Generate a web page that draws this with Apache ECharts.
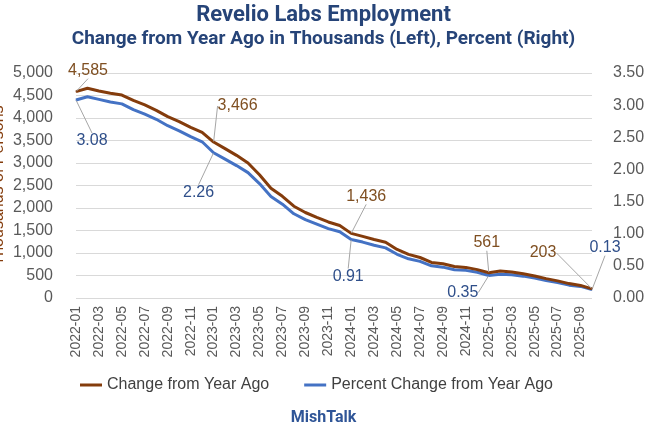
<!DOCTYPE html>
<html>
<head>
<meta charset="utf-8">
<script src="https://cdn.jsdelivr.net/npm/echarts@6/dist/echarts.min.js"></script>
<style>
html,body{margin:0;padding:0;background:#fff;}
#c{width:647px;height:432px;}
</style>
</head>
<body>
<div id="c"></div>
<script>
const categories = ['2022-01','2022-02','2022-03','2022-04','2022-05','2022-06','2022-07','2022-08','2022-09','2022-10','2022-11','2022-12',
'2023-01','2023-02','2023-03','2023-04','2023-05','2023-06','2023-07','2023-08','2023-09','2023-10','2023-11','2023-12',
'2024-01','2024-02','2024-03','2024-04','2024-05','2024-06','2024-07','2024-08','2024-09','2024-10','2024-11','2024-12',
'2025-01','2025-02','2025-03','2025-04','2025-05','2025-06','2025-07','2025-08','2025-09','2025-10'];
const changeThousands = [4585,4660,4600,4550,4510,4390,4290,4170,4030,3920,3790,3680,
3466,3320,3170,3000,2740,2440,2260,2040,1900,1790,1690,1610,
1436,1370,1300,1240,1080,970,900,790,760,700,680,630,
561,600,580,540,490,430,380,320,280,203];
const changePercent = [3.08,3.13,3.09,3.05,3.02,2.93,2.86,2.78,2.68,2.60,2.51,2.43,
2.26,2.16,2.06,1.95,1.78,1.58,1.46,1.31,1.22,1.15,1.08,1.03,
0.91,0.87,0.82,0.78,0.68,0.61,0.57,0.50,0.48,0.44,0.43,0.40,
0.35,0.37,0.36,0.34,0.31,0.27,0.24,0.20,0.18,0.13];
const leftTicks = {min:0, max:5000, interval:500};
const rightTicks = {min:0, max:3.5, interval:0.5};
// labelled points: index -> label offset
const brownLabels = {0:[12,-21], 12:[24,-36], 24:[15,-37], 36:[-2,-30], 45:[-49,-36]};
const blueLabels = {0:[16,41], 12:[-15,40], 24:[-3,37], 36:[-26,17], 45:[13,-42]};

const BROWN = '#843c0c', BLUE = '#4472c4';
const FONT = "'Liberation Sans', Arial, sans-serif";
const TFONT = "'Liberation Sans Narrow','Roboto',sans-serif";

function mkData(arr, labels, color, fmt){
  return arr.map((v,i)=>{
    if(labels[i]!==undefined){
      return {value:v, label:{show:true, formatter:fmt(v), color:color, fontSize:16, fontFamily:FONT}};
    }
    return v;
  });
}

const chart = echarts.init(document.getElementById('c'));
chart.setOption({
  animation:false,
  backgroundColor:'#fff',
  title:[
    {text:'Revelio Labs Employment', left:'center', top:-1,
     textStyle:{fontSize:22, fontWeight:'bold', color:'#264478', fontFamily:TFONT}},
    {text:'Change from Year Ago in Thousands (Left), Percent (Right)', left:'center', top:25,
     textStyle:{fontSize:19, fontWeight:'bold', color:'#264478', fontFamily:TFONT}},
    {text:'MishTalk', left:'center', top:405,
     textStyle:{fontSize:16, fontWeight:'bold', color:'#2f5597', fontFamily:TFONT}}
  ],
  legend:{
    left:80, top:377, padding:0, itemGap:35, itemWidth:22, itemHeight:3, icon:'rect',
    textStyle:{fontSize:16, color:'#404040', fontFamily:FONT},
    data:['Change from Year Ago','Percent Change from Year Ago']
  },
  grid:{left:76, right:55, top:73, bottom:134, outerBoundsMode:'none', containLabel:false},
  xAxis:{
    type:'category', data:categories, boundaryGap:false,
    axisLine:{show:false}, axisTick:{show:false},
    axisLabel:{rotate:90, interval:1, fontSize:14, color:'#595959', margin:8, fontFamily:FONT}
  },
  yAxis:[
    {type:'value', min:leftTicks.min, max:leftTicks.max, interval:leftTicks.interval,
     name:'Thousands of Persons', nameLocation:'middle', nameRotate:90, nameGap:69, nameMoveOverlap:false,
     nameTextStyle:{fontSize:16, color:BROWN, fontFamily:FONT},
     axisLine:{show:false}, axisTick:{show:false},
     axisLabel:{fontSize:16, color:'#595959', margin:23, fontFamily:FONT,
       formatter:v=>v.toLocaleString('en-US')},
     splitLine:{lineStyle:{color:'#d9d9d9', width:1}}},
    {type:'value', min:rightTicks.min, max:rightTicks.max, interval:rightTicks.interval,
     axisLine:{show:false}, axisTick:{show:false},
     axisLabel:{fontSize:16, color:'#595959', margin:21, fontFamily:FONT,
       formatter:v=>v.toFixed(2)},
     splitLine:{show:false}}
  ],
  series:[
    {name:'Change from Year Ago', type:'line', yAxisIndex:0, symbol:'circle', symbolSize:1, showSymbol:true,
     lineStyle:{color:BROWN, width:3}, itemStyle:{color:BROWN},
     data:mkData(changeThousands, brownLabels, '#7f4f21', v=>v.toLocaleString('en-US')),
     label:{show:false, position:'inside'},
     labelLine:{show:true, lineStyle:{color:'#a6a6a6', width:1}},
     labelLayout:p=>{const o=brownLabels[p.dataIndex]; return o?{dx:o[0], dy:o[1]}:{};},
     z:3},
    {name:'Percent Change from Year Ago', type:'line', yAxisIndex:1, symbol:'circle', symbolSize:1, showSymbol:true,
     lineStyle:{color:BLUE, width:3}, itemStyle:{color:BLUE},
     data:mkData(changePercent, blueLabels, '#2f4f8a', v=>v.toFixed(2)),
     label:{show:false, position:'inside'},
     labelLine:{show:true, lineStyle:{color:'#a6a6a6', width:1}},
     labelLayout:p=>{const o=blueLabels[p.dataIndex]; return o?{dx:o[0], dy:o[1]}:{};},
     z:2}
  ]
});
</script>
</body>
</html>
